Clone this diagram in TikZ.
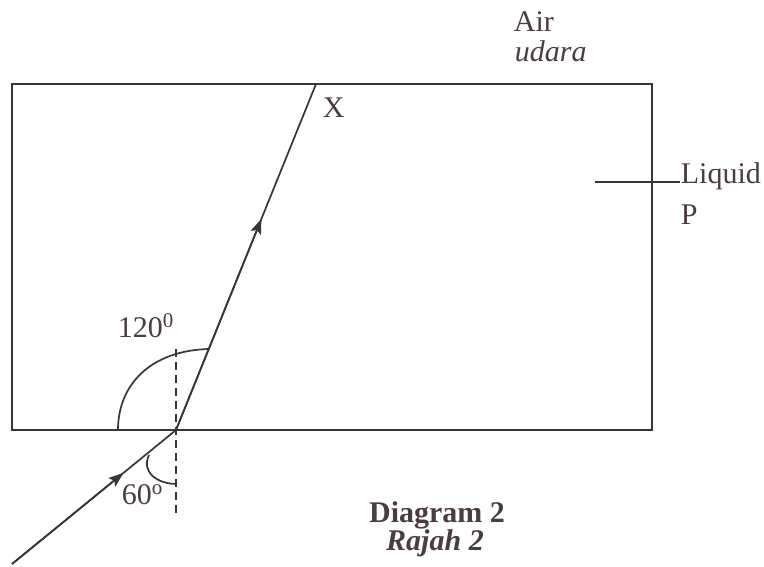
\documentclass[tikz,border=0pt]{standalone}
\usepackage{fontspec}
\setmainfont{Liberation Serif}
\usetikzlibrary{arrows.meta,calc,positioning}
\definecolor{inkgray}{HTML}{3A3436}
\definecolor{textbrown}{HTML}{4A3C40}

\begin{document}
\begin{tikzpicture}[x=1pt,y=-1pt,line width=1.7pt,
  lbl/.style={inner sep=0pt,anchor=base west,text=textbrown,font=\fontsize{30}{35}\selectfont},
  captiontext/.style={lbl,anchor=base,font=\fontsize{30}{35}\selectfont\bfseries},
  ray/.style={inkgray},
  midarrow/.style={-{Stealth[length=15pt,width=11pt,inset=3pt]}}]
  \useasboundingbox (0,0) rectangle (764,567);
  % tank of liquid P
  \draw[inkgray] (12,84) rectangle (652,430);
  \coordinate (O) at (176,430);
  \coordinate (X) at (316,84);
  \coordinate (S) at (12,564);
  % normal at O
  \draw[inkgray,line width=1.4pt,dash pattern=on 8pt off 5pt] (176,349) -- (176,514);
  % rays
  \draw[ray] (S) -- (O) -- (X);
  \draw[ray,midarrow] (S) -- ($(S)!0.68!(O)$);
  \draw[ray,midarrow] (O) -- ($(O)!0.61!(X)$);
  % angle marks
  \draw[ray] (118,430) .. controls (118,385) and (150,351) .. (208,349);
  \draw[ray] (149,455) .. controls (141,472) and (157,484) .. (177,484);
  % labels
  \node[lbl] (air) at (513,32) {Air};
  \node[lbl,font=\fontsize{30}{35}\selectfont\itshape] (udara) at (514,62) {udara};
  \node[lbl] (xlabel) at (322,118) {X};
  \node[lbl] (liquid) at (680,184) {Liquid};
  \node[lbl] (p) at (680,225) {P};
  \node[lbl] (ang120) at (117,337) {120\textsuperscript{0}};
  \node[lbl] (ang60) at (121,504) {60\textsuperscript{o}};
  \coordinate (lead) at (595,182);
  \draw[inkgray] (lead) -- (lead -| liquid.west);
  \node[captiontext] (title) at (437,522) {Diagram 2};
  \node[captiontext,font=\fontsize{30}{35}\selectfont\bfseries\itshape] (rajah) at (435,550) {Rajah 2};
\end{tikzpicture}
\end{document}
